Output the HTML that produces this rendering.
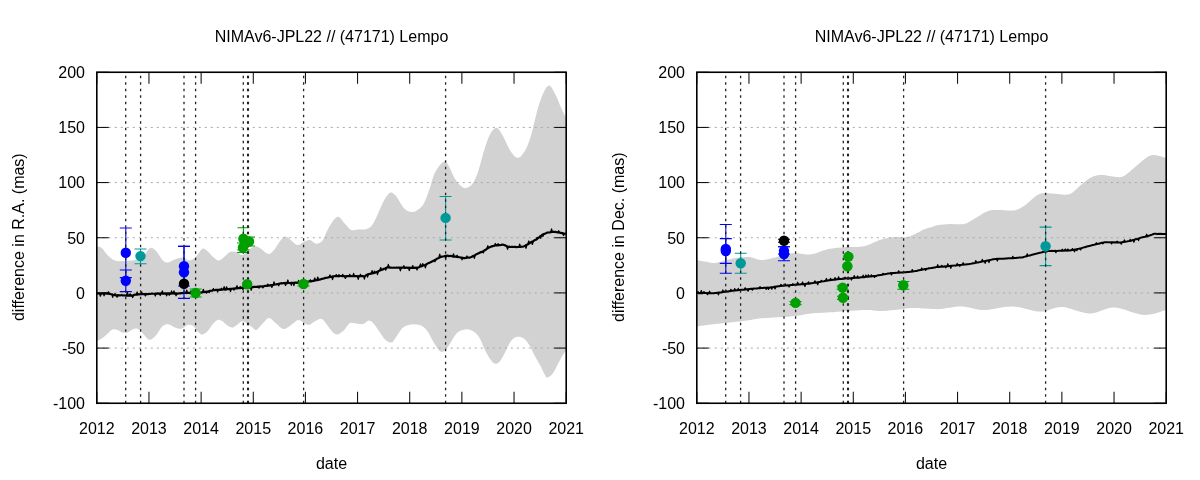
<!DOCTYPE html>
<html><head><meta charset="utf-8"><style>
html,body{margin:0;padding:0;background:#fff;}
svg{display:block;will-change:transform;}
</style></head><body>
<svg width="1200" height="480" viewBox="0 0 1200 480">
<rect width="1200" height="480" fill="#fff"/>
<path d="M97,246.9 C97.71,247 99.5,246.15 101.25,247.5 C103,248.85 105.42,252.92 107.5,255 C109.58,257.08 111.67,258.96 113.75,260 C115.83,261.04 117.29,261.15 120,261.25 C122.71,261.35 127.08,260.91 130,260.6 C132.92,260.29 135.33,260 137.5,259.4 C139.67,258.8 140.92,258.88 143,257 C145.08,255.12 147.79,249.06 150,248.1 C152.21,247.14 154.17,249.27 156.25,251.25 C158.33,253.23 160.62,258.12 162.5,260 C164.38,261.88 165.42,262.6 167.5,262.5 C169.58,262.4 172.5,260.23 175,259.4 C177.5,258.57 180,257.3 182.5,257.5 C185,257.7 187.71,260.81 190,260.6 C192.29,260.39 194.17,258.23 196.25,256.25 C198.33,254.28 200.62,249.58 202.5,248.75 C204.38,247.92 205.62,249.79 207.5,251.25 C209.38,252.71 211.88,255.94 213.75,257.5 C215.62,259.06 216.88,260.81 218.75,260.6 C220.62,260.39 223.12,257.7 225,256.25 C226.88,254.8 228.12,252.62 230,251.9 C231.88,251.18 234.17,251.38 236.25,251.9 C238.33,252.42 240.42,255.32 242.5,255 C244.58,254.68 246.67,251.46 248.75,250 C250.83,248.54 253.12,246.57 255,246.25 C256.88,245.93 258.12,246.96 260,248.1 C261.88,249.24 264.58,252.16 266.25,253.1 C267.92,254.04 268.54,254.47 270,253.75 C271.46,253.03 273.33,250.83 275,248.75 C276.67,246.67 278.33,243.28 280,241.25 C281.67,239.22 283.33,236.91 285,236.6 C286.67,236.29 287.92,238 290,239.4 C292.08,240.8 295.21,244.58 297.5,245 C299.79,245.42 301.67,242.73 303.75,241.9 C305.83,241.07 307.92,239.69 310,240 C312.08,240.31 314.17,243.65 316.25,243.75 C318.33,243.85 320.62,242.89 322.5,240.6 C324.38,238.31 325.62,233.43 327.5,230 C329.38,226.57 331.88,222.18 333.75,220 C335.62,217.82 336.88,216.28 338.75,216.9 C340.62,217.53 342.92,221.57 345,223.75 C347.08,225.93 349.17,229.06 351.25,230 C353.33,230.94 355.21,229.5 357.5,229.4 C359.79,229.3 362.71,229.93 365,229.4 C367.29,228.88 369.38,228.23 371.25,226.25 C373.12,224.27 374.58,220.83 376.25,217.5 C377.92,214.17 379.79,209.38 381.25,206.25 C382.71,203.12 383.44,201.04 385,198.75 C386.56,196.46 388.73,192.92 390.6,192.5 C392.48,192.08 394.27,193.96 396.25,196.25 C398.23,198.54 400.62,203.79 402.5,206.25 C404.38,208.71 405.75,210.04 407.5,211 C409.25,211.96 411.33,212.17 413,212 C414.67,211.83 415.71,211.38 417.5,210 C419.29,208.62 421.67,207.5 423.75,203.75 C425.83,200 428.12,192.71 430,187.5 C431.88,182.29 432.92,176.67 435,172.5 C437.08,168.33 440.42,163.96 442.5,162.5 C444.58,161.04 445.42,161.04 447.5,163.75 C449.58,166.46 452.71,175 455,178.75 C457.29,182.5 459.38,184.69 461.25,186.25 C463.12,187.81 464.38,188.52 466.25,188.1 C468.12,187.68 470.54,186.43 472.5,183.75 C474.46,181.07 476.02,177.72 478,172 C479.98,166.28 482.4,155.67 484.4,149.4 C486.4,143.13 487.97,138 490,134.4 C492.03,130.8 494.42,127.49 496.6,127.8 C498.78,128.11 500.77,132.34 503.1,136.25 C505.43,140.16 508.1,147.66 510.6,151.25 C513.1,154.84 515.6,158.11 518.1,157.8 C520.6,157.49 523.41,153.3 525.6,149.4 C527.79,145.5 529.37,140.65 531.25,134.4 C533.13,128.15 535.02,118.47 536.9,111.9 C538.77,105.33 540.47,99.38 542.5,95 C544.53,90.62 546.92,85.6 549.1,85.6 C551.28,85.6 553.58,91.25 555.6,95 C557.62,98.75 559.48,104.2 561.25,108.1 C563.02,112 565.38,116.68 566.2,118.4 L566.2,350 C565.58,350.93 563.95,353.1 562.5,355.6 C561.05,358.1 559.17,361.98 557.5,365 C555.83,368.02 554.17,371.67 552.5,373.75 C550.83,375.83 548.75,377.29 547.5,377.5 C546.25,377.71 546.25,377.08 545,375 C543.75,372.92 541.67,368.12 540,365 C538.33,361.88 536.67,359.38 535,356.25 C533.33,353.12 531.67,349.06 530,346.25 C528.33,343.44 526.67,340.96 525,339.4 C523.33,337.84 521.67,337.22 520,336.9 C518.33,336.58 516.67,336.57 515,337.5 C513.33,338.43 511.67,340 510,342.5 C508.33,345 506.67,349.38 505,352.5 C503.33,355.62 501.67,359.38 500,361.25 C498.33,363.12 496.67,364.17 495,363.75 C493.33,363.33 491.67,361.04 490,358.75 C488.33,356.46 486.67,353.33 485,350 C483.33,346.67 481.67,341.67 480,338.75 C478.33,335.83 476.88,334.06 475,332.5 C473.12,330.94 470.83,329.82 468.75,329.4 C466.67,328.98 464.58,329.27 462.5,330 C460.42,330.73 458.33,331.46 456.25,333.75 C454.17,336.04 451.88,340.94 450,343.75 C448.12,346.56 446.67,349.35 445,350.6 C443.33,351.85 441.88,352.6 440,351.25 C438.12,349.9 435.83,345.83 433.75,342.5 C431.67,339.17 429.58,334.07 427.5,331.25 C425.42,328.43 423.33,326.74 421.25,325.6 C419.17,324.46 417.08,324.5 415,324.4 C412.92,324.3 410.83,324.38 408.75,325 C406.67,325.62 404.79,325.81 402.5,328.1 C400.21,330.39 396.88,336.35 395,338.75 C393.12,341.15 392.92,342.39 391.25,342.5 C389.58,342.61 386.88,341.07 385,339.4 C383.12,337.73 381.88,335.11 380,332.5 C378.12,329.89 375.62,325.73 373.75,323.75 C371.88,321.77 370.42,320.6 368.75,320.6 C367.08,320.6 365.62,323.23 363.75,323.75 C361.88,324.27 359.79,323.86 357.5,323.75 C355.21,323.64 352.29,321.96 350,323.1 C347.71,324.24 345.83,328.72 343.75,330.6 C341.67,332.48 339.38,334.18 337.5,334.4 C335.62,334.62 334.38,333.67 332.5,331.9 C330.62,330.12 328.12,325.94 326.25,323.75 C324.38,321.56 323.12,319.17 321.25,318.75 C319.38,318.33 317.08,320.21 315,321.25 C312.92,322.29 310.62,324.79 308.75,325 C306.88,325.21 305.42,323.33 303.75,322.5 C302.08,321.67 300.21,320.1 298.75,320 C297.29,319.9 296.88,320.65 295,321.9 C293.12,323.15 289.58,326.36 287.5,327.5 C285.42,328.64 284.58,329.58 282.5,328.75 C280.42,327.92 277.29,324.27 275,322.5 C272.71,320.73 270.83,317.89 268.75,318.1 C266.67,318.31 264.58,321.77 262.5,323.75 C260.42,325.73 257.92,329.38 256.25,330 C254.58,330.62 253.96,328.54 252.5,327.5 C251.04,326.46 249.17,324.79 247.5,323.75 C245.83,322.71 244.17,321.14 242.5,321.25 C240.83,321.36 239.17,323.36 237.5,324.4 C235.83,325.44 234.17,327.3 232.5,327.5 C230.83,327.7 229.17,326.64 227.5,325.6 C225.83,324.56 224.17,322.18 222.5,321.25 C220.83,320.32 219.17,319.48 217.5,320 C215.83,320.52 214.17,322.52 212.5,324.4 C210.83,326.27 209.38,329.58 207.5,331.25 C205.62,332.92 203.33,334.92 201.25,334.4 C199.17,333.88 196.46,329.57 195,328.1 C193.54,326.63 193.75,326.12 192.5,325.6 C191.25,325.08 189.38,324.48 187.5,325 C185.62,325.52 183.33,328.33 181.25,328.75 C179.17,329.17 177.08,328.23 175,327.5 C172.92,326.77 170.83,324.61 168.75,324.4 C166.67,324.19 164.58,324.48 162.5,326.25 C160.42,328.02 158.12,332.81 156.25,335 C154.38,337.19 152.71,338.77 151.25,339.4 C149.79,340.02 148.96,339.8 147.5,338.75 C146.04,337.7 144.17,334.77 142.5,333.1 C140.83,331.43 139.17,329.37 137.5,328.75 C135.83,328.13 134.17,328.77 132.5,329.4 C130.83,330.02 129.17,331.98 127.5,332.5 C125.83,333.02 124.17,332.92 122.5,332.5 C120.83,332.08 119.17,330.52 117.5,330 C115.83,329.48 114.17,328.77 112.5,329.4 C110.83,330.02 109.17,332.3 107.5,333.75 C105.83,335.2 104.25,336.85 102.5,338.1 C100.75,339.35 97.92,340.73 97,341.25 Z" fill="#d2d2d2" stroke="none"/>
<line x1="96.8" y1="127.42" x2="566.2" y2="127.42" stroke="#a8a8a8" stroke-width="1" stroke-dasharray="2 4"/>
<line x1="96.8" y1="182.58" x2="566.2" y2="182.58" stroke="#a8a8a8" stroke-width="1" stroke-dasharray="2 4"/>
<line x1="96.8" y1="237.75" x2="566.2" y2="237.75" stroke="#a8a8a8" stroke-width="1" stroke-dasharray="2 4"/>
<line x1="96.8" y1="292.92" x2="566.2" y2="292.92" stroke="#a8a8a8" stroke-width="1" stroke-dasharray="2 4"/>
<line x1="96.8" y1="348.08" x2="566.2" y2="348.08" stroke="#a8a8a8" stroke-width="1" stroke-dasharray="2 4"/>
<path d="M97,293.4 L98,293.52 L99,293.45 L100,293.54 L101,293.55 L102,293.33 L103,293.31 L104,293.63 L105,293.4 L106,293.39 L107,293.7 L108,293.56 L109,293.86 L110,293.94 L111,294.23 L112,294.26 L113,294.68 L114,295 L115,295.08 L116,295.33 L117,295.38 L118,295.15 L119,295.44 L120,295.38 L121,295.28 L122,295.18 L123,295.53 L124,295.38 L125,295.49 L126,295.57 L127,295.52 L128,295.61 L129,295.41 L130,295.59 L131,295.45 L132,295.66 L133,295.54 L134,295.01 L135,294.69 L136,294.48 L137,294.63 L138,294.37 L139,294.39 L140,294.21 L141,294.24 L142,294.14 L143,294.07 L144,294.11 L145,294.06 L146,294.14 L147,293.99 L148,294.04 L149,293.96 L150,293.96 L151,293.78 L152,293.52 L153,293.75 L154,293.74 L155,293.68 L156,293.53 L157,293.59 L158,293.38 L159,293.63 L160,293.53 L161,293.41 L162,293.33 L163,293.64 L164,293.7 L165,293.34 L166,293.62 L167,293.46 L168,293.36 L169,293.42 L170,293.61 L171,293.65 L172,293.32 L173,293.55 L174,293.32 L175,293.57 L176,293.38 L177,293.55 L178,293.54 L179,293.3 L180,293.45 L181,293.12 L182,292.98 L183,293.14 L184,292.86 L185,292.9 L186,292.96 L187,293.04 L188,292.86 L189,292.82 L190,293.15 L191,292.93 L192,293.18 L193,293.16 L194,292.95 L195,292.95 L196,292.91 L197,292.86 L198,292.74 L199,292.62 L200,292.55 L201,292.58 L202,292.3 L203,292.17 L204,292.19 L205,291.86 L206,291.72 L207,291.79 L208,291.41 L209,291.22 L210,290.8 L211,290.77 L212,290.63 L213,290.21 L214,290.25 L215,290.1 L216,289.77 L217,289.95 L218,289.84 L219,289.87 L220,289.69 L221,289.78 L222,289.75 L223,289.41 L224,289.37 L225,289.55 L226,289.59 L227,289.2 L228,289.18 L229,289.14 L230,288.93 L231,288.85 L232,288.73 L233,288.65 L234,288.64 L235,288.42 L236,288.35 L237,288.41 L238,288.01 L239,288.13 L240,288.09 L241,287.82 L242,287.69 L243,287.82 L244,287.5 L245,287.39 L246,287.41 L247,287.45 L248,287.15 L249,287.18 L250,287.12 L251,287.26 L252,287.04 L253,287.14 L254,286.81 L255,286.81 L256,286.87 L257,286.9 L258,286.67 L259,286.52 L260,286.41 L261,286.49 L262,286.25 L263,286.37 L264,286.26 L265,285.87 L266,285.79 L267,285.87 L268,285.68 L269,285.62 L270,285.31 L271,285.1 L272,285.04 L273,285.09 L274,284.71 L275,284.54 L276,284.37 L277,284.17 L278,283.96 L279,283.97 L280,283.46 L281,283.2 L282,283.38 L283,283.21 L284,283.18 L285,282.95 L286,283.14 L287,283.11 L288,282.82 L289,283.01 L290,283.03 L291,282.95 L292,282.88 L293,282.77 L294,282.78 L295,282.72 L296,282.64 L297,282.81 L298,282.61 L299,282.72 L300,282.32 L301,282.56 L302,282.38 L303,282.37 L304,282.26 L305,282.16 L306,281.93 L307,281.61 L308,281.8 L309,281.47 L310,281.39 L311,281.37 L312,281.11 L313,280.87 L314,280.88 L315,280.54 L316,280.24 L317,280 L318,280.04 L319,279.69 L320,279.58 L321,279.16 L322,278.81 L323,278.66 L324,278.48 L325,277.94 L326,277.9 L327,277.71 L328,277.46 L329,277.3 L330,276.82 L331,276.9 L332,276.83 L333,276.34 L334,276.27 L335,276.16 L336,276.21 L337,276.17 L338,276.19 L339,276.31 L340,276 L341,276.02 L342,276.05 L343,276.05 L344,276.03 L345,276.39 L346,276.34 L347,276.03 L348,276.2 L349,276.13 L350,276.13 L351,276.14 L352,276.26 L353,276.23 L354,276.14 L355,276.08 L356,276.13 L357,276.05 L358,276.22 L359,276.29 L360,276.15 L361,276.03 L362,276.07 L363,276.15 L364,276.24 L365,276.03 L366,275.3 L367,274.83 L368,274.34 L369,274.05 L370,273.81 L371,273.65 L372,273.52 L373,273.19 L374,273.09 L375,272.7 L376,272.24 L377,271.89 L378,271.5 L379,270.79 L380,270.48 L381,270.04 L382,269.79 L383,269.39 L384,268.74 L385,268.52 L386,268.04 L387,267.55 L388,267.5 L389,267.39 L390,267.68 L391,267.64 L392,267.75 L393,267.73 L394,267.7 L395,267.74 L396,267.69 L397,267.53 L398,267.74 L399,267.53 L400,267.6 L401,267.87 L402,267.6 L403,267.63 L404,267.64 L405,267.95 L406,267.67 L407,267.61 L408,267.94 L409,267.65 L410,267.94 L411,267.87 L412,267.93 L413,267.98 L414,267.83 L415,267.92 L416,267.61 L417,267.79 L418,267.45 L419,267.19 L420,266.59 L421,266.5 L422,266.22 L423,265.52 L424,265.28 L425,264.98 L426,264.63 L427,263.9 L428,263.37 L429,262.9 L430,262.55 L431,262.1 L432,261.46 L433,260.95 L434,260.46 L435,259.92 L436,259.41 L437,258.71 L438,258.32 L439,257.95 L440,257.26 L441,257.03 L442,256.53 L443,256.48 L444,256.24 L445,255.94 L446,255.73 L447.07,255.7 L448.13,255.88 L449.2,256.09 L450.27,255.9 L451.33,255.99 L452.4,256.37 L453.47,256.54 L454.53,256.5 L455.6,256.6 L456.62,256.88 L457.64,256.85 L458.66,257.07 L459.68,257.23 L460.69,257.57 L461.71,257.65 L462.73,257.81 L463.75,258.07 L464.82,258.15 L465.89,257.76 L466.96,257.8 L468.04,257.55 L469.11,257.6 L470.18,257.36 L471.25,256.96 L472.29,256.51 L473.33,255.86 L474.38,255.47 L475.42,254.85 L476.46,254.19 L477.5,253.73 L478.54,253.2 L479.58,252.91 L480.62,252.18 L481.67,252.05 L482.71,251.37 L483.75,250.87 L484.75,250.21 L485.75,249.67 L486.75,248.99 L487.75,248.2 L488.75,247.59 L489.75,247.21 L490.75,246.88 L491.75,246.32 L492.75,246.07 L493.75,245.88 L494.79,245.49 L495.83,245.29 L496.88,245.19 L497.92,245.29 L498.96,245.17 L500,245.13 L501.25,244.89 L502.5,244.61 L503.5,244.75 L504.5,245.15 L505.5,245.5 L506.5,246.08 L507.5,246.52 L508.5,246.8 L509.5,246.69 L510.5,246.97 L511.5,246.79 L512.5,246.87 L513.5,247.04 L514.5,246.82 L515.5,246.86 L516.5,247.19 L517.5,246.98 L518.5,246.98 L519.5,247.02 L520.5,247 L521.5,246.67 L522.5,246.74 L523.5,246.52 L524.62,246.08 L525.75,245.31 L526.88,244.8 L528,244.29 L529.12,243.41 L530.25,242.82 L531.38,242 L532.5,241.41 L533.62,240.92 L534.75,240.05 L535.88,239.7 L537,239 L538.05,237.91 L539.1,237.42 L540.15,236.36 L541.2,235.69 L542.25,234.98 L543.3,234.22 L544.35,233.92 L545.4,233.46 L546.45,233.07 L547.5,232.51 L548.62,232.48 L549.75,232.43 L550.88,232.19 L552,232.01 L553.12,231.72 L554.25,231.85 L555.38,231.88 L556.5,232.21 L557.62,232.38 L558.75,232.53 L559.79,232.57 L560.82,232.94 L561.86,233.13 L562.89,233.14 L563.93,233.62 L564.96,233.72 L566,233.6" fill="none" stroke="#000" stroke-width="2.2" stroke-linejoin="round"/>
<path d="M99.52,293.5 L100.42,296.22 L101.32,293.5 M103.19,293.5 L104.09,295.78 L104.99,293.5 M107.54,293.57 L108.44,291.89 L109.34,293.57 M111.8,294.62 L112.7,297.38 L113.6,294.62 M114.1,295.07 L115,293.48 L115.9,295.07 M116.22,295.31 L117.12,297.23 L118.02,295.31 M126.4,295.43 L127.3,292.24 L128.2,295.43 M129.21,295.46 L130.11,293.77 L131.01,295.46 M131.77,295.38 L132.67,297.59 L133.57,295.38 M136.22,294.45 L137.12,291.94 L138.02,294.45 M140.79,294.18 L141.69,291.76 L142.59,294.18 M144.5,294.03 L145.4,295.95 L146.3,294.03 M154.41,293.52 L155.31,296.01 L156.21,293.52 M159.34,293.5 L160.24,295.51 L161.14,293.5 M161.43,293.5 L162.33,290.92 L163.23,293.5 M165.75,293.5 L166.65,295.84 L167.55,293.5 M168.34,293.5 L169.24,295.36 L170.14,293.5 M170.68,293.5 L171.58,290.88 L172.48,293.5 M173.08,293.5 L173.98,290.94 L174.88,293.5 M175.16,293.45 L176.06,295.81 L176.96,293.45 M185.83,293 L186.73,290.04 L187.63,293 M189.98,293 L190.88,290.92 L191.78,293 M198.08,292.6 L198.98,290.28 L199.88,292.6 M202.45,292.2 L203.35,289.26 L204.25,292.2 M205.62,291.6 L206.52,293.22 L207.42,291.6 M208.25,291.2 L209.15,292.74 L210.05,291.2 M212.52,290.4 L213.42,288.59 L214.32,290.4 M216.68,289.85 L217.58,291.98 L218.48,289.85 M220.47,289.7 L221.37,288.2 L222.27,289.7 M223.24,289.55 L224.14,286.6 L225.04,289.55 M225.72,289.3 L226.62,286.81 L227.52,289.3 M229.63,288.9 L230.53,291.43 L231.43,288.9 M233.1,288.6 L234,290.14 L234.9,288.6 M236.05,288.3 L236.95,285.59 L237.85,288.3 M239.26,288 L240.16,286.45 L241.06,288 M241.99,287.7 L242.89,289.52 L243.79,287.7 M245.85,287.38 L246.75,285.66 L247.65,287.38 M250.28,287.12 L251.18,290.29 L252.08,287.12 M258.11,286.62 L259.01,288.18 L259.91,286.62 M262,286.25 L262.9,287.91 L263.8,286.25 M266.91,285.62 L267.81,284.12 L268.71,285.62 M270.95,285.12 L271.85,287.48 L272.75,285.12 M273.11,284.8 L274.01,281.77 L274.91,284.8 M277.81,283.8 L278.71,285.88 L279.61,283.8 M284.66,282.96 L285.56,285.49 L286.46,282.96 M286.93,282.93 L287.83,279.98 L288.73,282.93 M290.45,282.89 L291.35,285.3 L292.25,282.89 M292.97,282.84 L293.87,285.59 L294.77,282.84 M297.74,282.6 L298.64,280.39 L299.54,282.6 M301.08,282.3 L301.98,280.21 L302.88,282.3 M304.6,282 L305.5,285.06 L306.4,282 M309.45,281.47 L310.35,279.67 L311.25,281.47 M313.92,280.5 L314.82,277.82 L315.72,280.5 M316.88,279.9 L317.78,277.04 L318.68,279.9 M329.06,277.01 L329.96,274.88 L330.86,277.01 M331.64,276.53 L332.54,279.58 L333.44,276.53 M335.35,276.2 L336.25,274.56 L337.15,276.2 M338.07,276.2 L338.97,274.44 L339.87,276.2 M341.83,276.2 L342.73,274.31 L343.63,276.2 M344.49,276.2 L345.39,278.41 L346.29,276.2 M348.86,276.2 L349.76,274.38 L350.66,276.2 M352.72,276.2 L353.62,273.33 L354.52,276.2 M357.3,276.2 L358.2,279.3 L359.1,276.2 M359.56,276.2 L360.46,274.32 L361.36,276.2 M363.48,276.2 L364.38,279.18 L365.28,276.2 M366.69,274.29 L367.59,277.11 L368.49,274.29 M371.2,273.44 L372.1,270.55 L373,273.44 M373.55,273.01 L374.45,271 L375.35,273.01 M376.57,271.88 L377.47,274.66 L378.37,271.88 M379.84,270.07 L380.74,267.54 L381.64,270.07 M384.78,267.93 L385.68,270.17 L386.58,267.93 M387.43,267.52 L388.33,264.44 L389.23,267.52 M399.5,267.74 L400.4,270.86 L401.3,267.74 M402.95,267.8 L403.85,265.61 L404.75,267.8 M408.38,267.8 L409.28,270.53 L410.18,267.8 M411.89,267.8 L412.79,265.5 L413.69,267.8 M416.13,267.68 L417.03,269.92 L417.93,267.68 M419.53,266.75 L420.43,263.92 L421.33,266.75 M421.84,265.7 L422.74,263.5 L423.64,265.7 M424.46,264.95 L425.36,267.83 L426.26,264.95 M434.02,259.98 L434.92,261.75 L435.82,259.98 M438.84,257.3 L439.74,254.1 L440.64,257.3 M444.77,255.73 L445.67,258.73 L446.57,255.73 M452.57,256.38 L453.47,253.81 L454.37,256.38 M456.18,256.79 L457.08,255.2 L457.98,256.79 M461.13,257.73 L462.03,259.83 L462.93,257.73 M466.07,257.71 L466.97,255.9 L467.87,257.71 M473.41,255.47 L474.31,258.35 L475.21,255.47 M482.34,251.38 L483.24,252.95 L484.14,251.38 M486.95,248.18 L487.85,245.72 L488.75,248.18 M494.42,245.5 L495.32,243.43 L496.22,245.5 M497.25,245.2 L498.15,243.67 L499.05,245.2 M506.66,246.64 L507.56,249.27 L508.46,246.64 M518.78,246.92 L519.68,244.01 L520.58,246.92 M525.06,245.42 L525.96,248.29 L526.86,245.42 M527.9,243.45 L528.8,240.97 L529.7,243.45 M531.47,241.5 L532.37,244.45 L533.27,241.5 M536.26,238.84 L537.16,237.29 L538.06,238.84 M539.73,235.58 L540.63,238.29 L541.53,235.58 M542.03,234.3 L542.93,236.43 L543.83,234.3 M550.65,232 L551.55,228.93 L552.45,232 M557.8,232.5 L558.7,230.64 L559.6,232.5 M562.64,233.46 L563.54,235.63 L564.44,233.46" fill="none" stroke="#000" stroke-width="1.2" stroke-linejoin="round"/>
<path d="M125.8,228 V277.6 M119.8,228 H131.8 M119.8,277.6 H131.8" stroke="#0000ff" stroke-width="1.1" fill="none"/>
<path d="M125.8,270 V291.6 M119.8,270 H131.8 M119.8,291.6 H131.8" stroke="#0000ff" stroke-width="1.1" fill="none"/>
<path d="M184,246.4 V286 M178,246.4 H190 M178,286 H190" stroke="#0000ff" stroke-width="1.1" fill="none"/>
<path d="M184,246.4 V298.4 M178,246.4 H190 M178,298.4 H190" stroke="#0000ff" stroke-width="1.1" fill="none"/>
<path d="M140.5,249 V263.7 M134.5,249 H146.5 M134.5,263.7 H146.5" stroke="#009999" stroke-width="1.1" fill="none"/>
<path d="M445.6,196.5 V240 M439.6,196.5 H451.6 M439.6,240 H451.6" stroke="#009999" stroke-width="1.1" fill="none"/>
<path d="M195.6,289 V297 M189.6,289 H201.6 M189.6,297 H201.6" stroke="#00a000" stroke-width="1.1" fill="none"/>
<path d="M243.4,227.7 V249.9 M237.4,227.7 H249.4 M237.4,249.9 H249.4" stroke="#00a000" stroke-width="1.1" fill="none"/>
<path d="M249,237 V246 M243,237 H255 M243,246 H255" stroke="#00a000" stroke-width="1.1" fill="none"/>
<path d="M243,243 V252.5 M237,243 H249 M237,252.5 H249" stroke="#00a000" stroke-width="1.1" fill="none"/>
<path d="M303.5,282 V286 M297.5,282 H309.5 M297.5,286 H309.5" stroke="#00a000" stroke-width="1.1" fill="none"/>
<line x1="125.7" y1="403.25" x2="125.7" y2="72.25" stroke="#202020" stroke-width="1.3" stroke-dasharray="2.6 3.9"/>
<line x1="140.6" y1="403.25" x2="140.6" y2="72.25" stroke="#202020" stroke-width="1.3" stroke-dasharray="2.6 3.9"/>
<line x1="184" y1="403.25" x2="184" y2="72.25" stroke="#202020" stroke-width="1.3" stroke-dasharray="2.6 3.9"/>
<line x1="195.6" y1="403.25" x2="195.6" y2="72.25" stroke="#202020" stroke-width="1.3" stroke-dasharray="2.6 3.9"/>
<line x1="243.3" y1="403.25" x2="243.3" y2="72.25" stroke="#202020" stroke-width="1.3" stroke-dasharray="2.6 3.9"/>
<line x1="247.6" y1="403.25" x2="247.6" y2="72.25" stroke="#202020" stroke-width="1.3" stroke-dasharray="2.6 3.9"/>
<line x1="248.4" y1="403.25" x2="248.4" y2="72.25" stroke="#202020" stroke-width="1.3" stroke-dasharray="2.6 3.9"/>
<line x1="303.6" y1="403.25" x2="303.6" y2="72.25" stroke="#202020" stroke-width="1.3" stroke-dasharray="2.6 3.9"/>
<line x1="445.6" y1="403.25" x2="445.6" y2="72.25" stroke="#202020" stroke-width="1.3" stroke-dasharray="2.6 3.9"/>
<circle cx="125.8" cy="252.8" r="5.2" fill="#0000ff"/>
<circle cx="125.8" cy="280.8" r="5.2" fill="#0000ff"/>
<circle cx="184" cy="266.3" r="5.2" fill="#0000ff"/>
<circle cx="184" cy="272.2" r="5.2" fill="#0000ff"/>
<circle cx="140.5" cy="256.1" r="5.2" fill="#009999"/>
<circle cx="445.6" cy="217.9" r="5.2" fill="#009999"/>
<circle cx="184" cy="283.8" r="5.2" fill="#000000"/>
<circle cx="195.6" cy="293" r="5.2" fill="#00a000"/>
<circle cx="243.4" cy="238.8" r="5.2" fill="#00a000"/>
<circle cx="249" cy="241.5" r="5.2" fill="#00a000"/>
<circle cx="243" cy="247.5" r="5.2" fill="#00a000"/>
<circle cx="247.2" cy="284.2" r="5.2" fill="#00a000"/>
<circle cx="303.5" cy="284" r="5.2" fill="#00a000"/>
<path d="M96.8,72.25 h12 M566.2,72.25 h-12" stroke="#000" stroke-width="1"/>
<text x="85" y="78.15" text-anchor="end" style="font-family:'Liberation Sans',sans-serif;font-size:16px">200</text>
<path d="M96.8,127.42 h12 M566.2,127.42 h-12" stroke="#000" stroke-width="1"/>
<text x="85" y="133.32" text-anchor="end" style="font-family:'Liberation Sans',sans-serif;font-size:16px">150</text>
<path d="M96.8,182.58 h12 M566.2,182.58 h-12" stroke="#000" stroke-width="1"/>
<text x="85" y="188.48" text-anchor="end" style="font-family:'Liberation Sans',sans-serif;font-size:16px">100</text>
<path d="M96.8,237.75 h12 M566.2,237.75 h-12" stroke="#000" stroke-width="1"/>
<text x="85" y="243.65" text-anchor="end" style="font-family:'Liberation Sans',sans-serif;font-size:16px">50</text>
<path d="M96.8,292.92 h12 M566.2,292.92 h-12" stroke="#000" stroke-width="1"/>
<text x="85" y="298.82" text-anchor="end" style="font-family:'Liberation Sans',sans-serif;font-size:16px">0</text>
<path d="M96.8,348.08 h12 M566.2,348.08 h-12" stroke="#000" stroke-width="1"/>
<text x="85" y="353.98" text-anchor="end" style="font-family:'Liberation Sans',sans-serif;font-size:16px">-50</text>
<path d="M96.8,403.25 h12 M566.2,403.25 h-12" stroke="#000" stroke-width="1"/>
<text x="85" y="409.15" text-anchor="end" style="font-family:'Liberation Sans',sans-serif;font-size:16px">-100</text>
<path d="M96.8,72.25 v11.5 M96.8,403.25 v-11.5" stroke="#000" stroke-width="1"/>
<text x="96.8" y="433.5" text-anchor="middle" style="font-family:'Liberation Sans',sans-serif;font-size:16px">2012</text>
<path d="M148.96,72.25 v11.5 M148.96,403.25 v-11.5" stroke="#000" stroke-width="1"/>
<text x="148.96" y="433.5" text-anchor="middle" style="font-family:'Liberation Sans',sans-serif;font-size:16px">2013</text>
<path d="M201.11,72.25 v11.5 M201.11,403.25 v-11.5" stroke="#000" stroke-width="1"/>
<text x="201.11" y="433.5" text-anchor="middle" style="font-family:'Liberation Sans',sans-serif;font-size:16px">2014</text>
<path d="M253.27,72.25 v11.5 M253.27,403.25 v-11.5" stroke="#000" stroke-width="1"/>
<text x="253.27" y="433.5" text-anchor="middle" style="font-family:'Liberation Sans',sans-serif;font-size:16px">2015</text>
<path d="M305.42,72.25 v11.5 M305.42,403.25 v-11.5" stroke="#000" stroke-width="1"/>
<text x="305.42" y="433.5" text-anchor="middle" style="font-family:'Liberation Sans',sans-serif;font-size:16px">2016</text>
<path d="M357.58,72.25 v11.5 M357.58,403.25 v-11.5" stroke="#000" stroke-width="1"/>
<text x="357.58" y="433.5" text-anchor="middle" style="font-family:'Liberation Sans',sans-serif;font-size:16px">2017</text>
<path d="M409.73,72.25 v11.5 M409.73,403.25 v-11.5" stroke="#000" stroke-width="1"/>
<text x="409.73" y="433.5" text-anchor="middle" style="font-family:'Liberation Sans',sans-serif;font-size:16px">2018</text>
<path d="M461.89,72.25 v11.5 M461.89,403.25 v-11.5" stroke="#000" stroke-width="1"/>
<text x="461.89" y="433.5" text-anchor="middle" style="font-family:'Liberation Sans',sans-serif;font-size:16px">2019</text>
<path d="M514.04,72.25 v11.5 M514.04,403.25 v-11.5" stroke="#000" stroke-width="1"/>
<text x="514.04" y="433.5" text-anchor="middle" style="font-family:'Liberation Sans',sans-serif;font-size:16px">2020</text>
<path d="M566.2,72.25 v11.5 M566.2,403.25 v-11.5" stroke="#000" stroke-width="1"/>
<text x="566.2" y="433.5" text-anchor="middle" style="font-family:'Liberation Sans',sans-serif;font-size:16px">2021</text>
<rect x="96.8" y="72.25" width="469.4" height="331" fill="none" stroke="#000" stroke-width="1.6"/>
<text x="331.5" y="42.3" text-anchor="middle" style="font-family:'Liberation Sans',sans-serif;font-size:16px">NIMAv6-JPL22 // (47171) Lempo</text>
<text x="331.5" y="468.7" text-anchor="middle" style="font-family:'Liberation Sans',sans-serif;font-size:16px">date</text>
<text transform="translate(23.8,237.2) rotate(-90)" x="0" y="0" text-anchor="middle" style="font-family:'Liberation Sans',sans-serif;font-size:16px">difference in R.A. (mas)</text>
<path d="M697,260 C698.67,260.33 704,261.5 707,262 C710,262.5 711.67,263.33 715,263 C718.33,262.67 723.67,260.83 727,260 C730.33,259.17 731.33,258.5 735,258 C738.67,257.5 744.67,256.67 749,257 C753.33,257.33 756.67,259.92 761,260 C765.33,260.08 771,258.42 775,257.5 C779,256.58 781.67,255.25 785,254.5 C788.33,253.75 791.33,253 795,253 C798.67,253 803.67,254.42 807,254.5 C810.33,254.58 812,254.25 815,253.5 C818,252.75 821.67,250.92 825,250 C828.33,249.08 831.33,248.5 835,248 C838.67,247.5 843.67,247.17 847,247 C850.33,246.83 852,247.17 855,247 C858,246.83 861.67,246.83 865,246 C868.33,245.17 872,243.17 875,242 C878,240.83 879.67,239.83 883,239 C886.33,238.17 891,237.33 895,237 C899,236.67 903.67,237.5 907,237 C910.33,236.5 912,235.33 915,234 C918,232.67 922.17,230.17 925,229 C927.83,227.83 929.83,227.67 932,227 C934.17,226.33 935,225.5 938,225 C941,224.5 945.67,224.17 950,224 C954.33,223.83 960,224.83 964,224 C968,223.17 970,221.17 974,219 C978,216.83 984,212.5 988,211 C992,209.5 993.67,210.1 998,210 C1002.33,209.9 1009.67,211.07 1014,210.4 C1018.33,209.73 1020.33,208.4 1024,206 C1027.67,203.6 1032.67,198.17 1036,196 C1039.33,193.83 1040.33,193.33 1044,193 C1047.67,192.67 1053.67,193.83 1058,194 C1062.33,194.17 1066,195.67 1070,194 C1074,192.33 1078.33,186.83 1082,184 C1085.67,181.17 1088.67,178.5 1092,177 C1095.33,175.5 1098,175 1102,175 C1106,175 1112.33,176.83 1116,177 C1119.67,177.17 1121,177.5 1124,176 C1127,174.5 1130.33,171 1134,168 C1137.67,165 1142.67,160.17 1146,158 C1149.33,155.83 1150.67,155 1154,155 C1157.33,155 1164,157.5 1166,158 L1166,310 C1162.33,310.83 1152.67,315.4 1144,315 C1135.33,314.6 1123,307.83 1114,307.6 C1105,307.37 1098.67,313.7 1090,313.6 C1081.33,313.5 1070.33,307.33 1062,307 C1053.67,306.67 1048.33,311.7 1040,311.6 C1031.67,311.5 1021.33,306.67 1012,306.4 C1002.67,306.13 992.33,310 984,310 C975.67,310 969.33,306.57 962,306.4 C954.67,306.23 944.5,308.57 940,309 C935.5,309.43 937.83,309.1 935,309 C932.17,308.9 927,308.57 923,308.4 C919,308.23 915.67,307.73 911,308 C906.33,308.27 900.33,309.5 895,310 C889.67,310.5 883.67,311 879,311 C874.33,311 872.33,310 867,310 C861.67,310 852.33,310.67 847,311 C841.67,311.33 841,311.58 835,312 C829,312.42 817,312.92 811,313.5 C805,314.08 803.67,314.92 799,315.5 C794.33,316.08 789.67,316.5 783,317 C776.33,317.5 765,317.92 759,318.5 C753,319.08 752.67,319.75 747,320.5 C741.33,321.25 731.67,322.25 725,323 C718.33,323.75 711.67,324.42 707,325 C702.33,325.58 698.67,326.25 697,326.5 Z" fill="#d2d2d2" stroke="none"/>
<line x1="696.8" y1="127.42" x2="1166.2" y2="127.42" stroke="#a8a8a8" stroke-width="1" stroke-dasharray="2 4"/>
<line x1="696.8" y1="182.58" x2="1166.2" y2="182.58" stroke="#a8a8a8" stroke-width="1" stroke-dasharray="2 4"/>
<line x1="696.8" y1="237.75" x2="1166.2" y2="237.75" stroke="#a8a8a8" stroke-width="1" stroke-dasharray="2 4"/>
<line x1="696.8" y1="292.92" x2="1166.2" y2="292.92" stroke="#a8a8a8" stroke-width="1" stroke-dasharray="2 4"/>
<line x1="696.8" y1="348.08" x2="1166.2" y2="348.08" stroke="#a8a8a8" stroke-width="1" stroke-dasharray="2 4"/>
<path d="M697,292.98 L698,292.99 L699,293.14 L700,293.03 L701,293.18 L702,293.13 L703,293.13 L704,292.96 L705,293.13 L706,292.99 L707,293.21 L708,293.24 L709,293.27 L710,293.29 L711,293.21 L712,293.15 L713,293.32 L714,293.18 L715,293.09 L716,293.08 L717,292.82 L718,292.78 L719,292.54 L720,292.39 L721,292.42 L722,292.28 L723,292.07 L724,291.91 L725,291.66 L726,291.65 L727,291.46 L728,291.48 L729,291.26 L730,291.24 L731,290.97 L732,290.85 L733,290.85 L734,290.62 L735,290.51 L736,290.56 L737,290.34 L738,290.14 L739,289.98 L740,289.89 L741,289.78 L742,289.74 L743,289.67 L744,289.73 L745,289.53 L746,289.53 L747,289.15 L748,289.16 L749,288.99 L750,288.99 L751,288.77 L752,288.81 L753,288.82 L754,288.48 L755,288.62 L756,288.43 L757,288.44 L758,288.31 L759,288.34 L760,288.15 L761,288.07 L762,288.04 L763,287.91 L764,287.79 L765,287.82 L766,287.73 L767,287.78 L768,287.57 L769,287.64 L770,287.55 L771,287.29 L772,287.31 L773,287.19 L774,286.85 L775,286.85 L776,286.49 L777,286.48 L778,286.17 L779,286.18 L780,285.93 L781,285.94 L782,285.74 L783,285.65 L784,285.65 L785,285.62 L786,285.48 L787,285.5 L788,285.29 L789,285.27 L790,285.22 L791,285.07 L792,285.07 L793,284.88 L794,284.87 L795,284.82 L796,284.76 L797,284.67 L798,284.62 L799,284.56 L800,284.47 L801,284.27 L802,284.3 L803,284.11 L804,284.22 L805,283.93 L806,283.78 L807,283.79 L808,283.56 L809,283.67 L810,283.47 L811,283.2 L812,283.14 L813,282.97 L814,282.81 L815,282.73 L816,282.71 L817,282.34 L818,282.3 L819,282.09 L820,282.05 L821,281.59 L822,281.52 L823,281.37 L824,281.21 L825,280.95 L826,280.79 L827,280.7 L828,280.51 L829,280.34 L830,280.34 L831,280.07 L832,280.06 L833,279.82 L834,279.87 L835,279.63 L836,279.55 L837,279.25 L838,279.23 L839,279.09 L840,279 L841,279.05 L842,278.91 L843,278.66 L844,278.7 L845,278.57 L846,278.4 L847,278.34 L848,278.25 L849,278.44 L850,278.16 L851,278.16 L852,278.01 L853,277.88 L854,278.02 L855,277.82 L856,277.78 L857,277.68 L858,277.72 L859,277.67 L860,277.41 L861,277.35 L862,277.33 L863,277.2 L864,277.23 L865,276.92 L866,276.79 L867,276.74 L868,276.72 L869,276.49 L870,276.4 L871,276.51 L872,276.28 L873,276.29 L874,276.06 L875,275.97 L876,275.96 L877,275.62 L878,275.33 L879,275.16 L880,275.11 L881,274.91 L882,274.83 L883,274.45 L884,274.26 L885,274.18 L886,274.02 L887,273.87 L888,273.44 L889,273.5 L890,273.32 L891,273.09 L892,273.2 L893,272.99 L894,273.11 L895,272.97 L896,272.76 L897,272.87 L898,272.81 L899,272.83 L900,272.58 L901,272.55 L902,272.6 L903,272.62 L904,272.26 L905,272.29 L906,272.3 L907,272.07 L908,271.88 L909,271.95 L910,271.65 L911,271.73 L912,271.62 L913,271.54 L914,271.28 L915,271.12 L916,270.97 L917,270.9 L918,270.46 L919,270.34 L920,270.05 L921,269.91 L922,269.68 L923,269.4 L924,269.23 L925,268.96 L926,268.94 L927,268.69 L928,268.56 L929,268.33 L930,268.13 L931,268.05 L932,267.92 L933,267.68 L934,267.47 L935,267.43 L936,267.12 L937,267 L938,267.02 L939,267.07 L940,266.85 L941,266.86 L942,266.61 L943,266.66 L944,266.44 L945,266.32 L946,266.42 L947,266.27 L948,266.2 L949,265.96 L950,265.91 L951,265.78 L952,265.71 L953,265.63 L954,265.46 L955,265.64 L956,265.47 L957,265.21 L958,265.14 L959,265 L960,264.9 L961,264.89 L962,264.71 L963,264.79 L964,264.56 L965,264.42 L966,264.46 L967,264.31 L968,264.23 L969,264.08 L970,263.87 L971,263.74 L972,263.56 L973,263.27 L974,263.21 L975,262.99 L976,262.66 L977,262.5 L978,262.41 L979,262.18 L980,262 L981,261.77 L982,261.6 L983,261.4 L984,261.17 L985,261.04 L986,260.88 L987,260.48 L988,260.38 L989,260.31 L990,259.89 L991,259.75 L992,259.55 L993,259.29 L994,259.14 L995,259.09 L996,258.85 L997,259.03 L998,258.81 L999,258.66 L1000,258.7 L1001,258.74 L1002,258.69 L1003,258.66 L1004,258.69 L1005,258.53 L1006,258.48 L1007,258.45 L1008,258.29 L1009,258.25 L1010,258.22 L1011,258.33 L1012,258.2 L1013,258.23 L1014,258.03 L1015,258.01 L1016,258.01 L1017,257.83 L1018,257.75 L1019,257.62 L1020,257.58 L1021,257.48 L1022,257.53 L1023,257.29 L1024,256.91 L1025,256.59 L1026,256.55 L1027,256.15 L1028,255.9 L1029,255.61 L1030,255.47 L1031,255.09 L1032,254.77 L1033,254.61 L1034,254.3 L1035,254.07 L1036,253.65 L1037,253.55 L1038,253.14 L1039,253.02 L1040,252.64 L1041,252.47 L1042,252.27 L1043,251.94 L1044,251.68 L1045,251.54 L1046,251.46 L1047,251.22 L1048,251.13 L1049,251.01 L1050,250.91 L1051,250.94 L1052,250.84 L1053,250.89 L1054,250.95 L1055,250.8 L1056,250.93 L1057,250.96 L1058,250.85 L1059,250.7 L1060,250.68 L1061,250.68 L1062,250.65 L1063,250.56 L1064,250.76 L1065,250.52 L1066,250.48 L1067,250.72 L1068,250.5 L1069,250.41 L1070,250.54 L1071,250.19 L1072,249.96 L1073,249.9 L1074,249.85 L1075,249.39 L1076,249.42 L1077,249.08 L1078,248.88 L1079,248.72 L1080,248.5 L1081,248.38 L1082,247.95 L1083,247.64 L1084,247.37 L1085,247.29 L1086,246.8 L1087,246.49 L1088,246.35 L1089,245.95 L1090,245.92 L1091,245.46 L1092,245.37 L1093,244.95 L1094,244.83 L1095,244.56 L1096,244.2 L1097,244.08 L1098,243.83 L1099,243.72 L1100,243.31 L1101,243.01 L1102,242.81 L1103,242.8 L1104,242.3 L1105,242.26 L1106,242.16 L1107,242.13 L1108,242.21 L1109,242.37 L1110,242.37 L1111,242.25 L1112,242.22 L1113,242.23 L1114,242.43 L1115,242.28 L1116,242.48 L1117,242.48 L1118,242.47 L1119,242.54 L1120,242.46 L1121,242.4 L1122,242.18 L1123,241.95 L1124,242 L1125,241.62 L1126,241.65 L1127,241.42 L1128,241.15 L1129,241.1 L1130,241.02 L1131,240.8 L1132,240.36 L1133,239.96 L1134,239.71 L1135,239.35 L1136,239.21 L1137,239.03 L1138,238.67 L1139,238.34 L1140,238 L1141,237.67 L1142,237.35 L1143,237.16 L1144,236.9 L1145,236.72 L1146,236.47 L1147,236.39 L1148,235.88 L1149,235.8 L1150,235.36 L1151,234.95 L1152,234.62 L1153,234.25 L1154,233.86 L1155,233.8 L1156,233.84 L1157,233.89 L1158,234.01 L1159,233.85 L1160,234.02 L1161,233.83 L1162,233.96 L1163,233.99 L1164,234.06 L1165,233.89 L1166,233.98" fill="none" stroke="#000" stroke-width="2.0" stroke-linejoin="round"/>
<path d="M697.1,293.01 L698,291.44 L698.9,293.01 M700.42,293.04 L701.32,290.55 L702.22,293.04 M703.09,293.08 L703.99,291.49 L704.89,293.08 M706.59,293.11 L707.49,294.63 L708.39,293.11 M708.65,293.14 L709.55,291.14 L710.45,293.14 M717.5,292.78 L718.4,294.86 L719.3,292.78 M721.95,292.08 L722.85,289.87 L723.75,292.08 M724.87,291.68 L725.77,289.95 L726.67,291.68 M729.93,291.08 L730.83,289.37 L731.73,291.08 M733.82,290.6 L734.72,288.52 L735.62,290.6 M737.31,290.24 L738.21,288.39 L739.11,290.24 M744.25,289.5 L745.15,287.69 L746.05,289.5 M747.22,289.2 L748.12,291.23 L749.02,289.2 M751.46,288.8 L752.36,290.13 L753.26,288.8 M759.13,288.17 L760.03,286.53 L760.93,288.17 M765.26,287.77 L766.16,289.47 L767.06,287.77 M767.56,287.63 L768.46,289.49 L769.36,287.63 M770.85,287.2 L771.75,289.15 L772.65,287.2 M774.14,286.75 L775.04,288.9 L775.94,286.75 M780.05,285.92 L780.95,284.42 L781.85,285.92 M784.35,285.6 L785.25,283.86 L786.15,285.6 M788.16,285.28 L789.06,287.1 L789.96,285.28 M792,284.96 L792.9,283.68 L793.8,284.96 M796.75,284.56 L797.65,282.2 L798.55,284.56 M801.68,284.16 L802.58,281.95 L803.48,284.16 M804.05,283.99 L804.95,286.42 L805.85,283.99 M807.7,283.52 L808.6,281.77 L809.5,283.52 M814.05,282.78 L814.95,280.77 L815.85,282.78 M816.81,282.26 L817.71,284.69 L818.61,282.26 M820.47,281.72 L821.37,280.36 L822.27,281.72 M825.46,280.87 L826.36,278.45 L827.26,280.87 M829.68,280.2 L830.58,278.27 L831.48,280.2 M834.17,279.67 L835.07,277.52 L835.97,279.67 M837.7,279.13 L838.6,276.84 L839.5,279.13 M844.17,278.62 L845.07,277.16 L845.97,278.62 M847.2,278.4 L848.1,276.94 L849,278.4 M850.57,278.18 L851.47,280.07 L852.37,278.18 M853.36,277.95 L854.26,275.52 L855.16,277.95 M856.71,277.65 L857.61,276 L858.51,277.65 M862.23,277.2 L863.13,275.15 L864.03,277.2 M864.98,276.9 L865.88,274.95 L866.78,276.9 M867.5,276.7 L868.4,274.72 L869.3,276.7 M870.49,276.4 L871.39,274.79 L872.29,276.4 M873.71,275.97 L874.61,277.55 L875.51,275.97 M882.03,274.51 L882.93,273.31 L883.83,274.51 M890.57,273.15 L891.47,274.96 L892.37,273.15 M897.75,272.72 L898.65,270.82 L899.55,272.72 M911.38,271.52 L912.28,269.62 L913.18,271.52 M920.85,269.66 L921.75,267.97 L922.65,269.66 M924.77,268.83 L925.67,270.48 L926.57,268.83 M936.84,267.03 L937.74,264.67 L938.64,267.03 M940.84,266.67 L941.74,265.33 L942.64,266.67 M944.82,266.31 L945.72,267.78 L946.62,266.31 M946.94,266.13 L947.84,263.71 L948.74,266.13 M949.91,265.86 L950.81,268.33 L951.71,265.86 M956.26,265.3 L957.16,263.4 L958.06,265.3 M958.91,265 L959.81,266.37 L960.71,265 M962.24,264.7 L963.14,262.63 L964.04,264.7 M974.88,262.8 L975.78,260.55 L976.68,262.8 M981.39,261.6 L982.29,259.4 L983.19,261.6 M984.28,261 L985.18,263.41 L986.08,261 M988.07,260.2 L988.97,262.65 L989.87,260.2 M996.41,258.9 L997.31,261.05 L998.21,258.9 M1011.91,258.1 L1012.81,256.26 L1013.71,258.1 M1026.34,256.15 L1027.24,253.84 L1028.14,256.15 M1043.89,251.55 L1044.79,250.1 L1045.69,251.55 M1045.89,251.3 L1046.79,249.46 L1047.69,251.3 M1054.98,250.85 L1055.88,252.65 L1056.78,250.85 M1061.34,250.7 L1062.24,249.24 L1063.14,250.7 M1064.43,250.62 L1065.33,248.97 L1066.23,250.62 M1066.97,250.55 L1067.87,248.93 L1068.77,250.55 M1071.52,250.1 L1072.42,248.59 L1073.32,250.1 M1073.55,249.7 L1074.45,251.78 L1075.35,249.7 M1075.98,249.1 L1076.88,250.62 L1077.78,249.1 M1079.72,248.23 L1080.62,249.99 L1081.52,248.23 M1095.44,244.27 L1096.34,242.67 L1097.24,244.27 M1101.85,242.66 L1102.75,243.92 L1103.65,242.66 M1110.67,242.34 L1111.57,243.89 L1112.47,242.34 M1116.26,242.44 L1117.16,241.21 L1118.06,242.44 M1120.35,242.35 L1121.25,244.21 L1122.15,242.35 M1123.46,241.9 L1124.36,239.9 L1125.26,241.9 M1129.29,240.95 L1130.19,239.41 L1131.09,240.95 M1133,239.8 L1133.9,242.25 L1134.8,239.8 M1137.65,238.3 L1138.55,240.58 L1139.45,238.3 M1145.8,236.25 L1146.7,234.2 L1147.6,236.25" fill="none" stroke="#000" stroke-width="1.2" stroke-linejoin="round"/>
<path d="M725.8,224.5 V273.3 M719.8,224.5 H731.8 M719.8,273.3 H731.8" stroke="#0000ff" stroke-width="1.1" fill="none"/>
<path d="M725.8,238.6 V263.4 M719.8,238.6 H731.8 M719.8,263.4 H731.8" stroke="#0000ff" stroke-width="1.1" fill="none"/>
<path d="M784,246.8 V254 M778,246.8 H790 M778,254 H790" stroke="#0000ff" stroke-width="1.1" fill="none"/>
<path d="M784,246.8 V260.8 M778,246.8 H790 M778,260.8 H790" stroke="#0000ff" stroke-width="1.1" fill="none"/>
<path d="M740.7,253.3 V273.3 M734.7,253.3 H746.7 M734.7,273.3 H746.7" stroke="#009999" stroke-width="1.1" fill="none"/>
<path d="M1045.6,227.1 V265.6 M1039.6,227.1 H1051.6 M1039.6,265.6 H1051.6" stroke="#009999" stroke-width="1.1" fill="none"/>
<path d="M784,239.3 V242.3 M778,239.3 H790 M778,242.3 H790" stroke="#000000" stroke-width="1.1" fill="none"/>
<path d="M795.5,301.6 V304.6 M789.5,301.6 H801.5 M789.5,304.6 H801.5" stroke="#00a000" stroke-width="1.1" fill="none"/>
<path d="M842.6,286 V289.2 M836.6,286 H848.6 M836.6,289.2 H848.6" stroke="#00a000" stroke-width="1.1" fill="none"/>
<path d="M843,296.2 V299.4 M837,296.2 H849 M837,299.4 H849" stroke="#00a000" stroke-width="1.1" fill="none"/>
<path d="M903.3,281.5 V289.3 M897.3,281.5 H909.3 M897.3,289.3 H909.3" stroke="#00a000" stroke-width="1.1" fill="none"/>
<line x1="725.7" y1="403.25" x2="725.7" y2="72.25" stroke="#202020" stroke-width="1.3" stroke-dasharray="2.6 3.9"/>
<line x1="740.6" y1="403.25" x2="740.6" y2="72.25" stroke="#202020" stroke-width="1.3" stroke-dasharray="2.6 3.9"/>
<line x1="784" y1="403.25" x2="784" y2="72.25" stroke="#202020" stroke-width="1.3" stroke-dasharray="2.6 3.9"/>
<line x1="795.6" y1="403.25" x2="795.6" y2="72.25" stroke="#202020" stroke-width="1.3" stroke-dasharray="2.6 3.9"/>
<line x1="843.3" y1="403.25" x2="843.3" y2="72.25" stroke="#202020" stroke-width="1.3" stroke-dasharray="2.6 3.9"/>
<line x1="847.6" y1="403.25" x2="847.6" y2="72.25" stroke="#202020" stroke-width="1.3" stroke-dasharray="2.6 3.9"/>
<line x1="848.4" y1="403.25" x2="848.4" y2="72.25" stroke="#202020" stroke-width="1.3" stroke-dasharray="2.6 3.9"/>
<line x1="903.6" y1="403.25" x2="903.6" y2="72.25" stroke="#202020" stroke-width="1.3" stroke-dasharray="2.6 3.9"/>
<line x1="1045.6" y1="403.25" x2="1045.6" y2="72.25" stroke="#202020" stroke-width="1.3" stroke-dasharray="2.6 3.9"/>
<circle cx="725.8" cy="248.9" r="5.2" fill="#0000ff"/>
<circle cx="725.8" cy="251" r="5.2" fill="#0000ff"/>
<circle cx="784" cy="251" r="5.2" fill="#0000ff"/>
<circle cx="784" cy="254" r="5.2" fill="#0000ff"/>
<circle cx="740.7" cy="263.2" r="5.2" fill="#009999"/>
<circle cx="1045.6" cy="246.3" r="5.2" fill="#009999"/>
<circle cx="784" cy="240.8" r="5.2" fill="#000000"/>
<circle cx="795.5" cy="302.9" r="5.2" fill="#00a000"/>
<circle cx="848.4" cy="256.6" r="5.2" fill="#00a000"/>
<circle cx="847.4" cy="266.2" r="5.2" fill="#00a000"/>
<circle cx="842.6" cy="287.6" r="5.2" fill="#00a000"/>
<circle cx="843" cy="297.8" r="5.2" fill="#00a000"/>
<circle cx="903.3" cy="285.2" r="5.2" fill="#00a000"/>
<path d="M696.8,72.25 h12 M1166.2,72.25 h-12" stroke="#000" stroke-width="1"/>
<text x="685" y="78.15" text-anchor="end" style="font-family:'Liberation Sans',sans-serif;font-size:16px">200</text>
<path d="M696.8,127.42 h12 M1166.2,127.42 h-12" stroke="#000" stroke-width="1"/>
<text x="685" y="133.32" text-anchor="end" style="font-family:'Liberation Sans',sans-serif;font-size:16px">150</text>
<path d="M696.8,182.58 h12 M1166.2,182.58 h-12" stroke="#000" stroke-width="1"/>
<text x="685" y="188.48" text-anchor="end" style="font-family:'Liberation Sans',sans-serif;font-size:16px">100</text>
<path d="M696.8,237.75 h12 M1166.2,237.75 h-12" stroke="#000" stroke-width="1"/>
<text x="685" y="243.65" text-anchor="end" style="font-family:'Liberation Sans',sans-serif;font-size:16px">50</text>
<path d="M696.8,292.92 h12 M1166.2,292.92 h-12" stroke="#000" stroke-width="1"/>
<text x="685" y="298.82" text-anchor="end" style="font-family:'Liberation Sans',sans-serif;font-size:16px">0</text>
<path d="M696.8,348.08 h12 M1166.2,348.08 h-12" stroke="#000" stroke-width="1"/>
<text x="685" y="353.98" text-anchor="end" style="font-family:'Liberation Sans',sans-serif;font-size:16px">-50</text>
<path d="M696.8,403.25 h12 M1166.2,403.25 h-12" stroke="#000" stroke-width="1"/>
<text x="685" y="409.15" text-anchor="end" style="font-family:'Liberation Sans',sans-serif;font-size:16px">-100</text>
<path d="M696.8,72.25 v11.5 M696.8,403.25 v-11.5" stroke="#000" stroke-width="1"/>
<text x="696.8" y="433.5" text-anchor="middle" style="font-family:'Liberation Sans',sans-serif;font-size:16px">2012</text>
<path d="M748.96,72.25 v11.5 M748.96,403.25 v-11.5" stroke="#000" stroke-width="1"/>
<text x="748.96" y="433.5" text-anchor="middle" style="font-family:'Liberation Sans',sans-serif;font-size:16px">2013</text>
<path d="M801.11,72.25 v11.5 M801.11,403.25 v-11.5" stroke="#000" stroke-width="1"/>
<text x="801.11" y="433.5" text-anchor="middle" style="font-family:'Liberation Sans',sans-serif;font-size:16px">2014</text>
<path d="M853.27,72.25 v11.5 M853.27,403.25 v-11.5" stroke="#000" stroke-width="1"/>
<text x="853.27" y="433.5" text-anchor="middle" style="font-family:'Liberation Sans',sans-serif;font-size:16px">2015</text>
<path d="M905.42,72.25 v11.5 M905.42,403.25 v-11.5" stroke="#000" stroke-width="1"/>
<text x="905.42" y="433.5" text-anchor="middle" style="font-family:'Liberation Sans',sans-serif;font-size:16px">2016</text>
<path d="M957.58,72.25 v11.5 M957.58,403.25 v-11.5" stroke="#000" stroke-width="1"/>
<text x="957.58" y="433.5" text-anchor="middle" style="font-family:'Liberation Sans',sans-serif;font-size:16px">2017</text>
<path d="M1009.73,72.25 v11.5 M1009.73,403.25 v-11.5" stroke="#000" stroke-width="1"/>
<text x="1009.73" y="433.5" text-anchor="middle" style="font-family:'Liberation Sans',sans-serif;font-size:16px">2018</text>
<path d="M1061.89,72.25 v11.5 M1061.89,403.25 v-11.5" stroke="#000" stroke-width="1"/>
<text x="1061.89" y="433.5" text-anchor="middle" style="font-family:'Liberation Sans',sans-serif;font-size:16px">2019</text>
<path d="M1114.04,72.25 v11.5 M1114.04,403.25 v-11.5" stroke="#000" stroke-width="1"/>
<text x="1114.04" y="433.5" text-anchor="middle" style="font-family:'Liberation Sans',sans-serif;font-size:16px">2020</text>
<path d="M1166.2,72.25 v11.5 M1166.2,403.25 v-11.5" stroke="#000" stroke-width="1"/>
<text x="1166.2" y="433.5" text-anchor="middle" style="font-family:'Liberation Sans',sans-serif;font-size:16px">2021</text>
<rect x="696.8" y="72.25" width="469.4" height="331" fill="none" stroke="#000" stroke-width="1.6"/>
<text x="931.5" y="42.3" text-anchor="middle" style="font-family:'Liberation Sans',sans-serif;font-size:16px">NIMAv6-JPL22 // (47171) Lempo</text>
<text x="931.5" y="468.7" text-anchor="middle" style="font-family:'Liberation Sans',sans-serif;font-size:16px">date</text>
<text transform="translate(623.8,237.2) rotate(-90)" x="0" y="0" text-anchor="middle" style="font-family:'Liberation Sans',sans-serif;font-size:16px">difference in Dec. (mas)</text>
</svg>
</body></html>
